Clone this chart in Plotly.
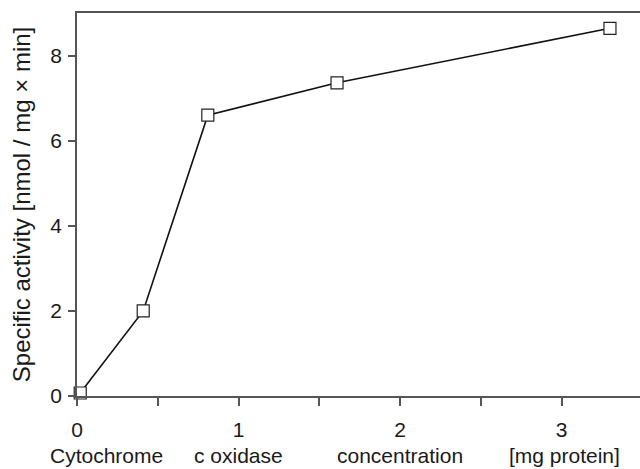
import plotly.graph_objects as go

# Data
concentration = [0.02, 0.41, 0.81, 1.61, 3.30]      # mg protein
activity = [0.07, 2.0, 6.6, 7.36, 8.64]             # nmol / mg x min

x_tick_vals = [0, 0.5, 1, 1.5, 2, 2.5, 3]
x_tick_text = ["0", "", "1", "", "2", "", "3"]
y_tick_vals = [0, 2, 4, 6, 8]
y_tick_text = ["0", "2", "4", "6", "8"]

x_title_words = ["Cytochrome", "c oxidase", "concentration", "[mg protein]"]
x_title_pos = [0.18, 1.0, 2.0, 3.02]

y_title = "Specific activity [nmol / mg \u00d7 min]"

FONT = "Liberation Sans, Arial, Helvetica, sans-serif"
AXIS_COLOR = "#555555"
TEXT_COLOR = "#1a1a1a"
FS = 21

fig = go.Figure()
fig.add_trace(go.Scatter(
    x=concentration, y=activity,
    mode="lines+markers",
    line=dict(color="#111111", width=1.6),
    marker=dict(symbol="square", size=12, color="white",
                line=dict(color="#222222", width=1.2)),
    showlegend=False,
    cliponaxis=False,
))

for word, pos in zip(x_title_words, x_title_pos):
    fig.add_annotation(
        x=pos, y=0, xref="x", yref="paper",
        yshift=-59, text=word, showarrow=False,
        font=dict(family=FONT, size=FS, color=TEXT_COLOR),
        xanchor="center", yanchor="middle",
    )

fig.update_layout(
    width=640, height=469,
    margin=dict(l=77, r=0, t=13, b=73),
    paper_bgcolor="white", plot_bgcolor="white",
    font=dict(family=FONT, size=FS, color=TEXT_COLOR),
    xaxis=dict(
        range=[0, 3.486], tickvals=x_tick_vals, ticktext=x_tick_text,
        ticks="outside", ticklen=8, tickwidth=1.5, tickcolor=AXIS_COLOR,
        showline=True, linecolor=AXIS_COLOR, linewidth=1.5, mirror=True,
        showgrid=False, zeroline=False, ticklabelstandoff=6,
        tickfont=dict(family=FONT, size=FS, color=TEXT_COLOR),
    ),
    yaxis=dict(
        range=[0, 9.0], tickvals=y_tick_vals, ticktext=y_tick_text,
        ticks="outside", ticklen=7, tickwidth=1.5, tickcolor=AXIS_COLOR,
        showline=True, linecolor=AXIS_COLOR, linewidth=1.5,
        showgrid=False, zeroline=False, ticklabelstandoff=2,
        tickfont=dict(family=FONT, size=FS, color=TEXT_COLOR),
        title=dict(text=y_title, standoff=13,
                   font=dict(family=FONT, size=24, color=TEXT_COLOR)),
    ),
)

fig.write_html("out.html",
               config={"displayModeBar": False},
               post_script="document.body.style.margin='0';document.body.style.overflow='hidden';")
